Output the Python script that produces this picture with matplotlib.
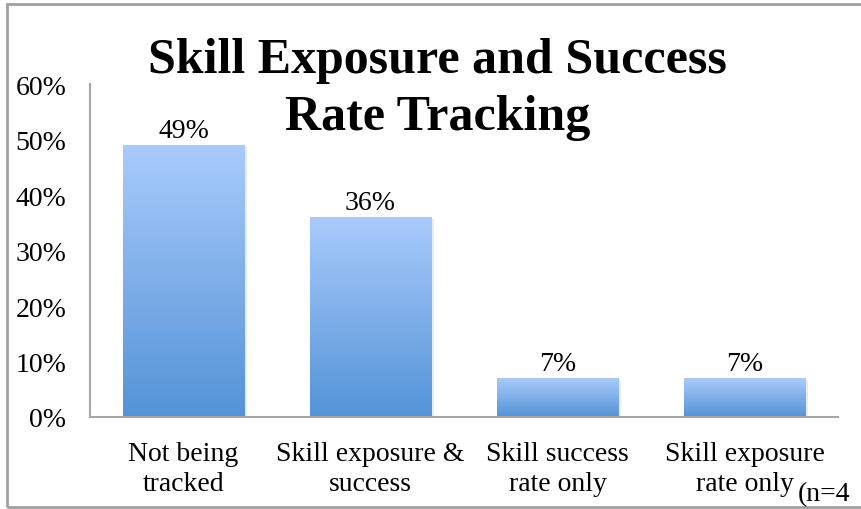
import numpy as np
import matplotlib
matplotlib.use('Agg')
import matplotlib.pyplot as plt
from matplotlib.colors import LinearSegmentedColormap
from matplotlib.patches import Rectangle

categories = ['Not being\ntracked', 'Skill exposure &\nsuccess',
              'Skill success\nrate only', 'Skill exposure\nrate only']
shares = [0.49, 0.36, 0.07, 0.07]
value_labels = ['49%', '36%', '7%', '7%']
y_ticks = [0.0, 0.1, 0.2, 0.3, 0.4, 0.5, 0.6]
y_tick_labels = ['0%', '10%', '20%', '30%', '40%', '50%', '60%']

plt.rcParams['font.family'] = ['Liberation Serif', 'DejaVu Serif']

fig = plt.figure(figsize=(8.61, 5.10), dpi=100)
ax = fig.add_axes([0.1045, 0.1804, 0.8688, 0.6529])

# vertical blue gradient for the bars
grad = LinearSegmentedColormap.from_list('bar', ['#5393d7', '#a9cbfb'])
ramp = np.linspace(0, 1, 256).reshape(-1, 1)

x = np.arange(len(categories))
width = 0.65
for xi, v, lab in zip(x, shares, value_labels):
    # soft shadow behind each bar
    ax.add_patch(Rectangle((xi - width / 2 + 0.012, -0.003), width, v,
                           facecolor='#000000', alpha=0.08, edgecolor='none', zorder=1))
    bar = Rectangle((xi - width / 2, 0), width, v, facecolor='none',
                    edgecolor='none', zorder=2)
    ax.add_patch(bar)
    im = ax.imshow(ramp, cmap=grad, aspect='auto', origin='lower',
                   extent=(xi - width / 2, xi + width / 2, 0, v), zorder=2)
    im.set_clip_path(bar)
    ax.text(xi, v + 0.004, lab, ha='center', va='bottom', fontsize=20)

ax.set_xlim(-0.5, len(categories) - 0.5)
ax.set_ylim(0, 0.6)
ax.set_yticks(y_ticks)
ax.set_yticklabels(y_tick_labels, fontsize=20)
ax.set_xticks(x)
ax.set_xticklabels(categories, fontsize=20, linespacing=1.3)
ax.tick_params(axis='y', length=0, pad=17)
ax.tick_params(axis='x', length=0, pad=17)

for side in ['top', 'right']:
    ax.spines[side].set_visible(False)
for side in ['left', 'bottom']:
    ax.spines[side].set_color('#a6a6a6')
    ax.spines[side].set_linewidth(1.5)

fig.text(437 / 861, 1 - 61 / 510, 'Skill Exposure and Success',
         ha='center', va='center', fontsize=36, fontweight='bold')
fig.text(438 / 861, 1 - 118 / 510, 'Rate Tracking',
         ha='center', va='center', fontsize=36, fontweight='bold')

fig.text(798 / 861, 0.006, '(n=4', ha='left', va='bottom', fontsize=20)

# outer chart frame
fig.patches.append(Rectangle((7 / 861, 2 / 510), 1.0, 503 / 510,
                             transform=fig.transFigure, fill=False,
                             edgecolor='#a0a0a0', linewidth=2))

fig.savefig('out.png', dpi=100)
